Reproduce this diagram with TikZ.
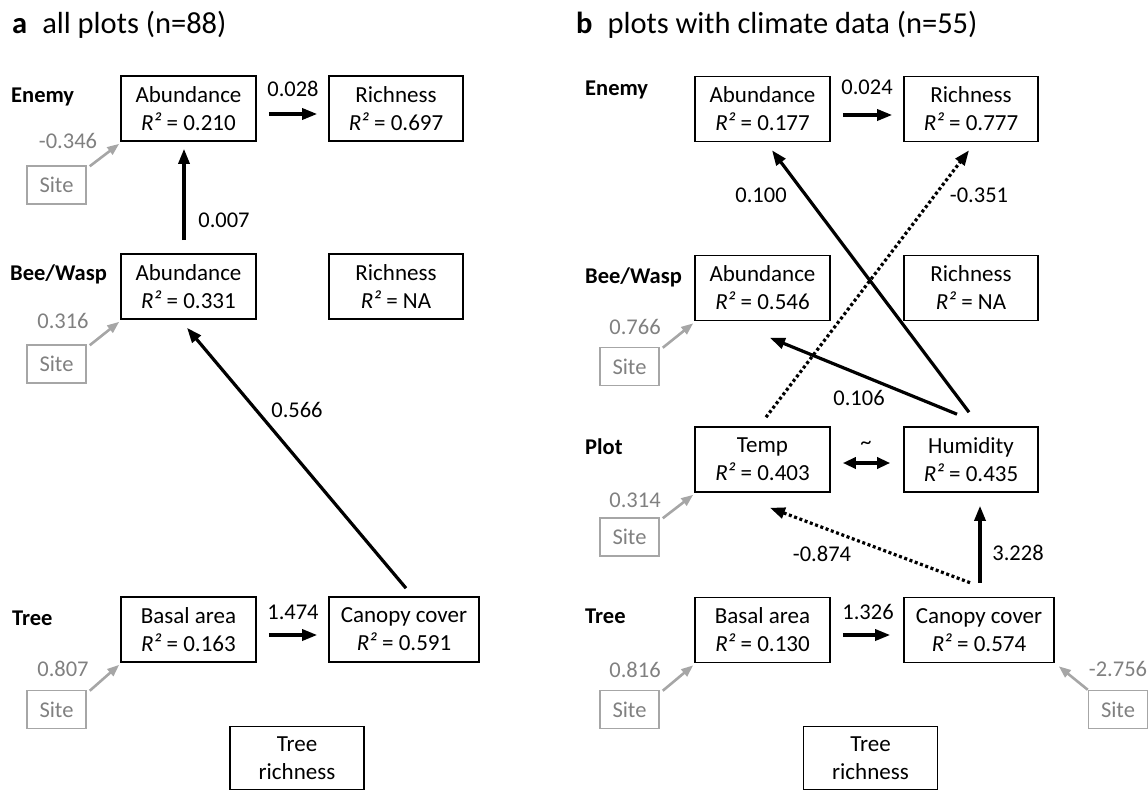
\documentclass[tikz,border=0pt]{standalone}
\usepackage{fontspec}
\setmainfont{Carlito}
\usetikzlibrary{arrows.meta,calc}
\definecolor{gline}{HTML}{A6A6A6}
\definecolor{gtext}{HTML}{808080}
\begin{document}
\begin{tikzpicture}[x=1pt,y=-1pt,
  box/.style={draw, line width=1.6pt, minimum width=#1, minimum height=65pt, inner sep=0pt, align=center, font=\fontsize{23}{28}\selectfont},
  box/.default=135pt,
  sitebox/.style={draw=gline, line width=1.5pt, text=gtext, minimum width=59pt, minimum height=38pt, inner sep=0pt, font=\fontsize{22.5}{27}\selectfont},
  lab/.style={inner sep=0pt, font=\fontsize{22.5}{27}\selectfont},
  glab/.style={lab, text=gtext},
  rowlab/.style={inner sep=0pt, anchor=west, font=\fontsize{22.5}{27}\selectfont\bfseries},
  ttl/.style={inner sep=0pt, anchor=west, font=\fontsize{30.5}{36}\selectfont},
  arr/.style={line width=3.2pt, -{Triangle[length=15pt,width=11pt]}},
  darr/.style={arr, dash pattern=on 3pt off 2.6pt},
  biarr/.style={line width=3.2pt, {Triangle[length=13pt,width=11pt]}-{Triangle[length=13pt,width=11pt]}},
  garr/.style={draw=gline, line width=2.6pt, -{Triangle[length=12pt,width=9pt]}}
]
\useasboundingbox (0,0) rectangle (1148,790);

% ---------------- panel a ----------------
\node[ttl] (ta) at (12,25) {\textbf{a}\hspace{15pt}all plots (n=88)};

\node[rowlab] (aLE) at (11,97) {Enemy};
\node[rowlab] (aLB) at (10,274) {Bee/Wasp};
\node[rowlab] (aLT) at (12,618) {Tree};

\node[box] (aEA) at (188.5,108.5) {Abundance\\\textit{R²} = 0.210};
\node[box=134pt] (aER) at (396,108.5) {Richness\\\textit{R²} = 0.697};
\node[box] (aBA) at (188.5,286.5) {Abundance\\\textit{R²} = 0.331};
\node[box=134pt] (aBR) at (396,286.5) {Richness\\\textit{R²} = NA};
\node[box] (aBasal) at (188.5,629.5) {Basal area\\\textit{R²} = 0.163};
\node[box=150pt] (aCan) at (404,629.5) {Canopy cover\\\textit{R²} = 0.591};
\node[box=134pt, minimum height=63pt] (aTR) at (297,758) {Tree\\richness};

\node[sitebox] (aS1) at (56.5,185) {Site};
\node[sitebox] (aS2) at (56.5,364) {Site};
\node[sitebox] (aS3) at (56.5,709.5) {Site};

\draw[arr] ($(aEA.east)+(12,5.5)$) -- ($(aER.west)+(-11,5.5)$);
\node[lab] (l028) at (293,89) {0.028};
\draw[arr] ($(aBA.north)+(-4.5,-13)$) -- ($(aEA.south)+(-4.5,7)$);
\node[lab] (l007) at (224,220) {0.007};
\draw[arr] ($(aCan.north)+(2,-8)$) -- ($(aBA.south)+(-1.5,8)$);
\node[lab] (l566) at (297,410) {0.566};
\draw[arr] ($(aBasal.east)+(12,5.5)$) -- ($(aCan.west)+(-11,5.5)$);
\node[lab] (l474) at (293,612) {1.474};

\draw[garr] ($(aS1.north east)+(3,1)$) -- ($(aEA.south west)+(-1,2)$);
\node[glab] (l346) at (68,141) {-0.346};
\draw[garr] ($(aS2.north east)+(3,1)$) -- ($(aBA.south west)+(-1,2)$);
\node[glab] (l316) at (63,321) {0.316};
\draw[garr] ($(aS3.north east)+(3,1)$) -- ($(aBasal.south west)+(-1,2)$);
\node[glab] (l807) at (63,669) {0.807};

% ---------------- panel b ----------------
\node[ttl] (tb) at (576,25) {\textbf{b}\hspace{15pt}plots with climate data (n=55)};

\node[rowlab] (bLE) at (585,90) {Enemy};
\node[rowlab] (bLB) at (585,277) {Bee/Wasp};
\node[rowlab] (bLP) at (585,447) {Plot};
\node[rowlab] (bLT) at (585,616) {Tree};

\node[box] (bEA) at (762.5,109) {Abundance\\\textit{R²} = 0.177};
\node[box=134pt] (bER) at (971,109) {Richness\\\textit{R²} = 0.777};
\node[box] (bBA) at (762.5,288) {Abundance\\\textit{R²} = 0.546};
\node[box=134pt] (bBR) at (971,288) {Richness\\\textit{R²} = NA};
\node[box] (bTemp) at (762.5,459.5) {Temp\\\textit{R²} = 0.403};
\node[box=134pt] (bHum) at (971,459.5) {Humidity\\\textit{R²} = 0.435};
\node[box] (bBasal) at (762.5,630) {Basal area\\\textit{R²} = 0.130};
\node[box=150pt] (bCan) at (979,630) {Canopy cover\\\textit{R²} = 0.574};
\node[box=134pt, minimum height=63pt] (bTR) at (870.5,758) {Tree\\richness};

\node[sitebox] (bS1) at (629.5,366.5) {Site};
\node[sitebox] (bS2) at (629.5,537) {Site};
\node[sitebox] (bS3) at (629.5,709.5) {Site};
\node[sitebox] (bS4) at (1118,709.5) {Site};

\draw[arr] ($(bEA.east)+(12,6)$) -- ($(bER.west)+(-11,6)$);
\node[lab] (l024) at (867,87) {0.024};

\draw[arr] ($(bHum.north)+(-2,-14)$) -- ($(bEA.south)+(9.5,8)$);
\node[lab] (l100) at (761,195) {0.100};
\draw[darr] ($(bTemp.north)+(3.5,-9)$) -- ($(bER.south)+(-2,8)$);
\node[lab] (l351) at (979,195) {-0.351};
\draw[arr] ($(bHum.north)+(-14,-12)$) -- ($(bBA.south)+(7.5,16.5)$);
\node[lab] (l106) at (859,398) {0.106};

\draw[biarr] ($(bTemp.east)+(12,3.5)$) -- ($(bHum.west)+(-13,3.5)$);
\node[lab] (ltil) at (866,445) {\textasciitilde};

\draw[darr] ($(bCan.north)+(-9,-14)$) -- ($(bTemp.south)+(7.5,15)$);
\node[lab] (l874) at (822,554) {-0.874};
\draw[arr] ($(bCan.north)+(1,-14)$) -- ($(bHum.south)+(9,13)$);
\node[lab] (l228) at (1018,553) {3.228};

\draw[arr] ($(bBasal.east)+(12,5)$) -- ($(bCan.west)+(-13,5)$);
\node[lab] (l326) at (868,612) {1.326};

\draw[garr] ($(bS1.north east)+(3,1)$) -- ($(bBA.south west)+(-1,2)$);
\node[glab] (l766) at (635,327) {0.766};
\draw[garr] ($(bS2.north east)+(3,1)$) -- ($(bTemp.south west)+(-1,2)$);
\node[glab] (l314) at (635,500) {0.314};
\draw[garr] ($(bS3.north east)+(3,1)$) -- ($(bBasal.south west)+(-1,2)$);
\node[glab] (l816) at (635,670) {0.816};
\draw[garr] ($(bS4.north west)+(0,0)$) -- ($(bCan.south east)+(4,3)$);
\node[glab] (l756) at (1118,669) {-2.756};
\end{tikzpicture}
\end{document}
